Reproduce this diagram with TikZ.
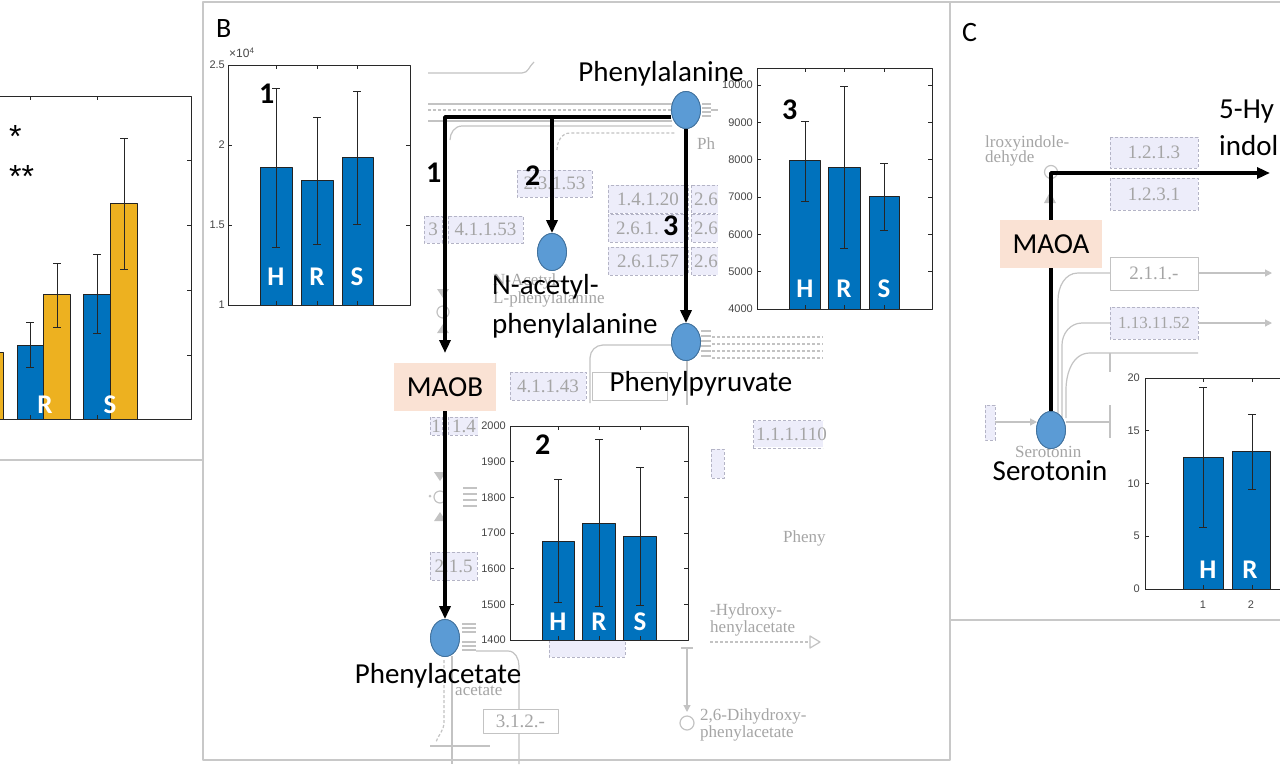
\documentclass[tikz,border=0pt]{standalone}
\usepackage{fontspec}
\setmainfont{Carlito}
\newfontfamily\tickfont{Liberation Sans}
\newfontfamily\keggfont{Liberation Serif}
\usetikzlibrary{arrows.meta,shapes.geometric}
\definecolor{matblue}{RGB}{0,114,189}
\definecolor{matyellow}{RGB}{237,177,32}
\definecolor{baredge}{RGB}{35,35,35}
\definecolor{cfill}{RGB}{91,155,213}
\definecolor{cedge}{RGB}{65,113,156}
\definecolor{enzfill}{RGB}{250,226,212}
\definecolor{framegrey}{RGB}{200,200,200}
\definecolor{kline}{RGB}{195,195,195}
\definecolor{ktext}{RGB}{165,165,165}
\definecolor{kfill}{RGB}{237,237,250}
\definecolor{kedge}{RGB}{180,180,198}
\definecolor{tickgrey}{RGB}{70,70,70}
\definecolor{axisgrey}{RGB}{40,40,40}
\newcommand{\myerr}[3]{\draw[errstyle] (#1-4,#2) -- (#1+4,#2) (#1,#2) -- (#1,#3) (#1-4,#3) -- (#1+4,#3);}
\tikzset{
 lbl/.style={font=\fontsize{29pt}{35pt}\selectfont, inner sep=0pt, anchor=base},
 lblw/.style={lbl, anchor=base west},
 numlbl/.style={font=\fontsize{30pt}{36pt}\selectfont\bfseries, inner sep=0pt, anchor=base west},
 panellbl/.style={font=\fontsize{28pt}{34pt}\selectfont, inner sep=0pt, anchor=base west},
 barlbl/.style={font=\fontsize{27pt}{32pt}\selectfont\bfseries, text=white, inner sep=0pt, anchor=base},
 ticklbl/.style={font=\tickfont\fontsize{11pt}{13pt}\selectfont, text=tickgrey, anchor=east, inner sep=0pt},
 starlbl/.style={font=\tickfont\fontsize{32pt}{36pt}\selectfont, inner sep=0pt, anchor=base west},
 axisframe/.style={draw=axisgrey, line width=1pt},
 bbar/.style={fill=matblue, draw=baredge, line width=0.8pt},
 ybar/.style={fill=matyellow, draw=baredge, line width=0.8pt},
 errstyle/.style={draw=black!85, line width=1pt},
 kbox/.style={draw=kedge, fill=kfill, densely dashed, line width=0.8pt},
 kwbox/.style={draw=kline, fill=white, line width=1pt},
 ktxt/.style={font=\keggfont\fontsize{19pt}{21pt}\selectfont, text=ktext, inner sep=0pt},
 ktxts/.style={font=\keggfont\fontsize{17pt}{19pt}\selectfont, text=ktext, inner sep=0pt, anchor=base west},
 kln/.style={draw=kline, line width=1.2pt},
 karrow/.style={kln, -{Triangle[length=7pt,width=7pt]}},
 compound/.style={ellipse, fill=cfill, draw=cedge, line width=0.8pt, minimum width=29pt, minimum height=37pt, inner sep=0pt},
 enzyme/.style={rectangle, fill=enzfill, minimum width=102pt, minimum height=48pt, inner sep=0pt, font=\fontsize{29pt}{35pt}\selectfont},
 flowline/.style={line width=3.8pt, draw=black},
 flow/.style={flowline, -{Triangle[length=13pt,width=11pt]}},
 panelframe/.style={draw=framegrey, line width=1.8pt},
}
\begin{document}
\begin{tikzpicture}[x=1pt,y=-1pt,line join=round]
\useasboundingbox (0,0) rectangle (1280,764);
\clip (0,0) rectangle (1280,764);
\fill[white] (0,0) rectangle (1280,764);

% ================= Panel B : KEGG background =================
\draw[kln] (428,73) -- (522,73) to[out=0,in=-140] (534,62);
\draw[kln] (428,104) -- (672,104);
\draw[kln, densely dashed] (428,110) -- (672,110);
\draw[kln] (428,121) -- (672,121);
\draw[kln] (450,140) to[out=90,in=180] (462,126) -- (672,126);
\draw[kln, densely dashed] (557,150) to[out=90,in=180] (570,133) -- (675,133);
\foreach \yy in {104,108,112,116} \draw[kln] (702,\yy) -- (711,\yy);
\draw[kln] (711,110) -- (720,110);
\node[ktxts] (kphe) at (697,149) {Ph};
\draw[kbox] (517,170) rectangle (592,197);
\node[ktxt] (k23153) at (554.5,183.5) {2.3.1.53};
\draw[kbox] (448,216) rectangle (523,243);
\node[ktxt] (k41153) at (485.5,229.5) {4.1.1.53};
\draw[kbox] (424,216) rectangle (442,243);
\node[ktxt] (k3) at (433,229.5) {3};
\draw[kbox] (608,185) rectangle (688,213);
\node[ktxt] (k14120) at (648,199) {1.4.1.20};
\draw[kbox] (608,214) rectangle (688,242);
\node[ktxt, anchor=west] (k2611) at (616,228) {2.6.1.};
\draw[kbox] (608,247) rectangle (688,275);
\node[ktxt] (k26157) at (648,261) {2.6.1.57};
\foreach \yt/\yb in {185/213,214/242,247/275} {
  \draw[kbox] (691,\yt) rectangle (735,\yb);
  \node[ktxt, anchor=west] at (694,{(\yt+\yb)/2}) {2.6};
}
\node[ktxts] (knac1) at (493,285) {N-Acetyl-};
\node[ktxts] (knac2) at (493,303) {L-phenylalanine};
% small compound marks on the left
\fill[kline] (437,289) -- (449,289) -- (443,298) -- cycle;
\draw[kln, fill=white] (443,312) circle (6);
\fill[kline] (437,333) -- (449,333) -- (443,324) -- cycle;
\fill[kline] (434,472) -- (446,472) -- (440,481) -- cycle;
\draw[kln, fill=white] (440,497) circle (6);
\fill[kline] (434,521) -- (446,521) -- (440,512) -- cycle;
\foreach \yy in {488,494,500,506} \draw[kln] (463,\yy) -- (477,\yy);
\fill[kline] (430,496) circle (1.5);
% middle boxes and curves
\draw[kbox] (510,372) rectangle (586,400);
\node[ktxt] (k41143) at (548,386) {4.1.1.43};
\draw[kwbox] (592,372) rectangle (667,400);
\draw[kln] (590,403) -- (590,358) to[out=90,in=180] (603,345) -- (672,345);
\draw[kln] (687,360) -- (687,405);
\foreach \yy in {331,336,341,346,351,356} \draw[kln] (701,\yy) -- (711,\yy);
\foreach \yy in {337,344,351,358} \draw[kln, densely dashed] (712,\yy) -- (823,\yy);
\draw[kbox] (430,417) rectangle (442,435);
\node[ktxt] (kb1) at (436,426) {1};
\draw[kbox] (448,417) rectangle (490,435);
\node[ktxt, anchor=west] (kb14) at (452,426) {1.4};
\draw[kbox] (430,552) rectangle (477,580);
\node[ktxt] (k215) at (453.5,566) {2.1.5};
% around phenylacetate
\foreach \yy in {624,628,632} \draw[kln] (462,\yy) -- (476,\yy);
\foreach \yy in {642,646,650} \draw[kln] (462,\yy) -- (476,\yy);
\draw[kln] (476,651) -- (508,651) to[out=0,in=90] (519,666) -- (519,764);
\draw[kln] (452,656) -- (452,764);
\draw[kln, densely dashed] (444,660) -- (444,722) to[out=-90,in=70] (436,742);
\draw[kln] (430,746) -- (490,746);
\node[ktxts] (kacet) at (455,695) {acetate};
\draw[kwbox] (483,709) rectangle (558,733);
\node[ktxt] (k312) at (520.5,721) {3.1.2.-};
\draw[kbox] (549,640) rectangle (625,657);
% right lower
\draw[kln] (681,648) -- (693,648);
\draw[karrow] (687,648) -- (687,712);
\draw[kln, fill=white] (687,723) circle (7);
\node[ktxts] (kdihy1) at (700,720) {2,6-Dihydroxy-};
\node[ktxts] (kdihy2) at (700,737) {phenylacetate};
\node[ktxts] (khy1) at (710,615) {-Hydroxy-};
\node[ktxts] (khy2) at (710,632) {henylacetate};
\draw[kln, densely dashed] (710,642) -- (808,642);
\draw[kln] (810,636) -- (820,642) -- (810,648) -- cycle;
\node[ktxts] (kpheny) at (783,542) {Pheny};
\draw[kbox] (753,420) -- (823,420) (753,448) -- (823,448) (753,420) -- (753,448);
\fill[kfill] (754,421) rectangle (823,447);
\node[ktxt, anchor=west] (k111110) at (756,434) {1.1.1.110};
\draw[kbox] (711,449) rectangle (724,478);

% ================= Panel C : KEGG background =================
\node[ktxts] (kroxy) at (985,147) {lroxyindole-};
\node[ktxts] (kdehy) at (985,162) {dehyde};
\draw[kln, fill=white] (1051,172) circle (6.5);
\fill[kline] (1044,203) -- (1056,203) -- (1050,192) -- cycle;
\draw[kbox] (1110,137) rectangle (1198,168);
\node[ktxt] (k1213) at (1154,152.5) {1.2.1.3};
\draw[kbox] (1110,178) rectangle (1198,210);
\node[ktxt] (k1231) at (1154,194) {1.2.3.1};
\draw[kwbox] (1110,257) rectangle (1198,290);
\node[ktxt] (k211) at (1154,273.5) {2.1.1.-};
\draw[kbox] (1110,307) rectangle (1198,339);
\node[ktxt, font=\keggfont\fontsize{17pt}{19pt}\selectfont] (k1131152) at (1154,323) {1.13.11.52};
\draw[karrow] (1198,273) -- (1272,273);
\draw[karrow] (1198,323) -- (1272,323);
\draw[kln] (1058,418) -- (1058,300) to[out=90,in=180] (1078,273) -- (1110,273);
\draw[kln] (1062,418) -- (1062,345) to[out=90,in=180] (1082,323) -- (1110,323);
\draw[kln] (1066,418) -- (1066,390) to[out=90,in=180] (1090,353) -- (1198,353);
\draw[kln] (1110,353) -- (1110,372);
\draw[kln] (1066,422) -- (1110,422);
\draw[kln] (1110,405) -- (1110,438);
\draw[kbox] (985,405) rectangle (995,440);
\draw[karrow] (995,422) -- (1037,422);
\node[ktxts] (kser) at (1015,457) {Serotonin};

% ================= chart backgrounds =================
\fill[white] (205,42) rectangle (422,318);
\fill[white] (718,52) rectangle (942,322);
\fill[white] (478,412) rectangle (700,640);
\fill[white] (1115,365) rectangle (1280,615);

% ================= Panel A chart =================
\draw[ybar] (-5,352) rectangle (3,419);
\draw[bbar] (17,345) rectangle (43,419);
\draw[ybar] (43,294) rectangle (70,419);
\draw[bbar] (83,294) rectangle (110,419);
\draw[ybar] (110,203) rectangle (137,419);
\myerr{30}{322}{367}
\myerr{57}{263}{327}
\myerr{97}{254}{333}
\myerr{124}{138}{269}
\draw[axisframe] (-5,96) -- (191,96) -- (191,419) -- (-5,419);
\foreach \y in {160,225,290,355} \draw[axisframe] (191,\y) -- (187,\y);
\foreach \x in {30,97} \draw[axisframe] (\x,96) -- (\x,100) (\x,419) -- (\x,415);
\node[barlbl] (aR) at (45,413) {R};
\node[barlbl] (aS) at (110,413) {S};
\node[starlbl] (ast1) at (9,147) {*};
\node[starlbl] (ast2) at (9,187) {**};

% ================= Chart 1 =================
\draw[bbar] (260,167) rectangle (292,305);
\draw[bbar] (301,180) rectangle (333,305);
\draw[bbar] (342,157) rectangle (373,305);
\myerr{276}{88}{247}
\myerr{317}{117}{244}
\myerr{357}{91}{224}
\draw[axisframe] (228,65) rectangle (410,305);
\foreach \y in {65,145,225,305} \draw[axisframe] (228,\y) -- (232,\y) (410,\y) -- (406,\y);
\foreach \x in {276,317,357} \draw[axisframe] (\x,65) -- (\x,69) (\x,305) -- (\x,301);
\foreach \v/\y in {2.5/65,2/145,1.5/225,1/305} \node[ticklbl] at (225,\y) {\v};
\node[ticklbl, anchor=west, font=\tickfont\fontsize{12pt}{14pt}\selectfont] (expo) at (229,53) {×10\textsuperscript{4}};
\node[numlbl] (c1num) at (259,103) {1};
\node[barlbl] (c1H) at (276,285) {H};
\node[barlbl] (c1R) at (317,285) {R};
\node[barlbl] (c1S) at (357,285) {S};

% ================= Chart 3 =================
\draw[bbar] (789,160) rectangle (820,309);
\draw[bbar] (828,167) rectangle (860,309);
\draw[bbar] (869,196) rectangle (899,309);
\myerr{805}{121}{201}
\myerr{844}{86}{248}
\myerr{884}{163}{230}
\draw[axisframe] (757,68) rectangle (932,309);
\foreach \v/\y in {10000/85,9000/122.3,8000/159.7,7000/197,6000/234.3,5000/271.7,4000/309} {
  \node[ticklbl] at (753,\y) {\v};
  \draw[axisframe] (757,\y) -- (761,\y) (932,\y) -- (928,\y);
}
\foreach \x in {805,844,884} \draw[axisframe] (\x,68) -- (\x,72) (\x,309) -- (\x,305);
\node[numlbl] (c3num) at (782,119) {3};
\node[barlbl] (c3H) at (805,297) {H};
\node[barlbl] (c3R) at (844,297) {R};
\node[barlbl] (c3S) at (884,297) {S};

% ================= Chart 2 =================
\draw[bbar] (542,541) rectangle (574,640);
\draw[bbar] (582,523) rectangle (615,640);
\draw[bbar] (623,536) rectangle (656,640);
\myerr{558}{479}{602}
\myerr{599}{439}{606}
\myerr{640}{467}{605}
\draw[axisframe] (510,426) rectangle (688,640);
\foreach \v/\y in {2000/426,1900/461.7,1800/497.3,1700/533,1600/568.7,1500/604.3,1400/640} {
  \node[ticklbl] at (506,\y) {\v};
  \draw[axisframe] (510,\y) -- (514,\y) (688,\y) -- (684,\y);
}
\foreach \x in {558,599,640} \draw[axisframe] (\x,426) -- (\x,430) (\x,640) -- (\x,636);
\node[numlbl] (c2num) at (535,454) {2};
\node[barlbl] (c2H) at (558,630) {H};
\node[barlbl] (c2R) at (599,630) {R};
\node[barlbl] (c2S) at (640,630) {S};

% ================= Panel C chart =================
\draw[bbar] (1183,457) rectangle (1223,589);
\draw[bbar] (1232,451) rectangle (1270,589);
\myerr{1203}{387}{527}
\myerr{1252}{414}{489}
\draw[axisframe] (1290,378) -- (1145,378) -- (1145,589) -- (1290,589);
\foreach \v/\y in {20/378,15/430.75,10/483.5,5/536.25,0/589} {
  \node[ticklbl] at (1140,\y) {\v};
  \draw[axisframe] (1145,\y) -- (1149,\y);
}
\foreach \x in {1203,1252} \draw[axisframe] (\x,378) -- (\x,382) (\x,589) -- (\x,585);
\node[ticklbl, anchor=center] (cx1) at (1203,605) {1};
\node[ticklbl, anchor=center] (cx2) at (1251,605) {2};
\node[barlbl] (cH) at (1208,578) {H};
\node[barlbl] (cR) at (1250,578) {R};

% ================= pathway nodes =================
\node[compound] (phe) at (686,110) {};
\node[compound] (nacp) at (552,252) {};
\node[compound] (ppyr) at (686,342) {};
\node[compound] (pac) at (445,638) {};
\node[compound] (ser) at (1051,430) {};
\coordinate (j1) at (445,117);
\coordinate (j2) at (552,117);
\coordinate (c5hy) at (1270,173);

\draw[flow] (phe.west |- j1) -- (j1) -- (445,353);
\node[enzyme] (maob) at (445,387) {MAOB};
\draw[flow] (maob.south) -- (pac.north);
\draw[flow] (j2) -- (nacp.north);
\draw[flow] (phe.south) -- (ppyr.north);
\node[compound] (phe2) at (686,110) {};
\node[compound] (nacp2) at (552,252) {};
\node[compound] (ppyr2) at (686,342) {};
\node[compound] (pac2) at (445,638) {};

\draw[flow] (ser.north) -- (ser.north |- c5hy) -- (c5hy);
\node[compound] (ser2) at (1051,430) {};
\node[enzyme] (maoa) at (1051,244) {MAOA};

% ================= labels =================
\node[lbl] (tphe) at (661,81) {Phenylalanine};
\node[lblw] (tnac1) at (492,294) {N-acetyl-};
\node[lblw] (tnac2) at (492,333) {phenylalanine};
\node[lbl] (tppyr) at (701,391) {Phenylpyruvate};
\node[lbl] (tpac) at (438,683) {Phenylacetate};
\node[lbl] (tser) at (1050,480) {Serotonin};
\node[lblw] (t5hy1) at (1219,118) {5-Hy};
\node[lblw] (t5hy2) at (1219,155) {indol};
\node[numlbl] (a1) at (426,182) {1};
\node[numlbl] (a2) at (525,185) {2};
\node[numlbl] (a3) at (663,235) {3};
\node[panellbl] (pB) at (216,37) {B};
\node[panellbl] (pC) at (962,41) {C};

% ================= panel frames =================
\draw[panelframe] (203,2) rectangle (950,760);
\draw[panelframe] (950,2) -- (1285,2);
\draw[panelframe] (950,620) -- (1285,620);
\draw[panelframe] (-5,460) -- (203,460);
\end{tikzpicture}
\end{document}
